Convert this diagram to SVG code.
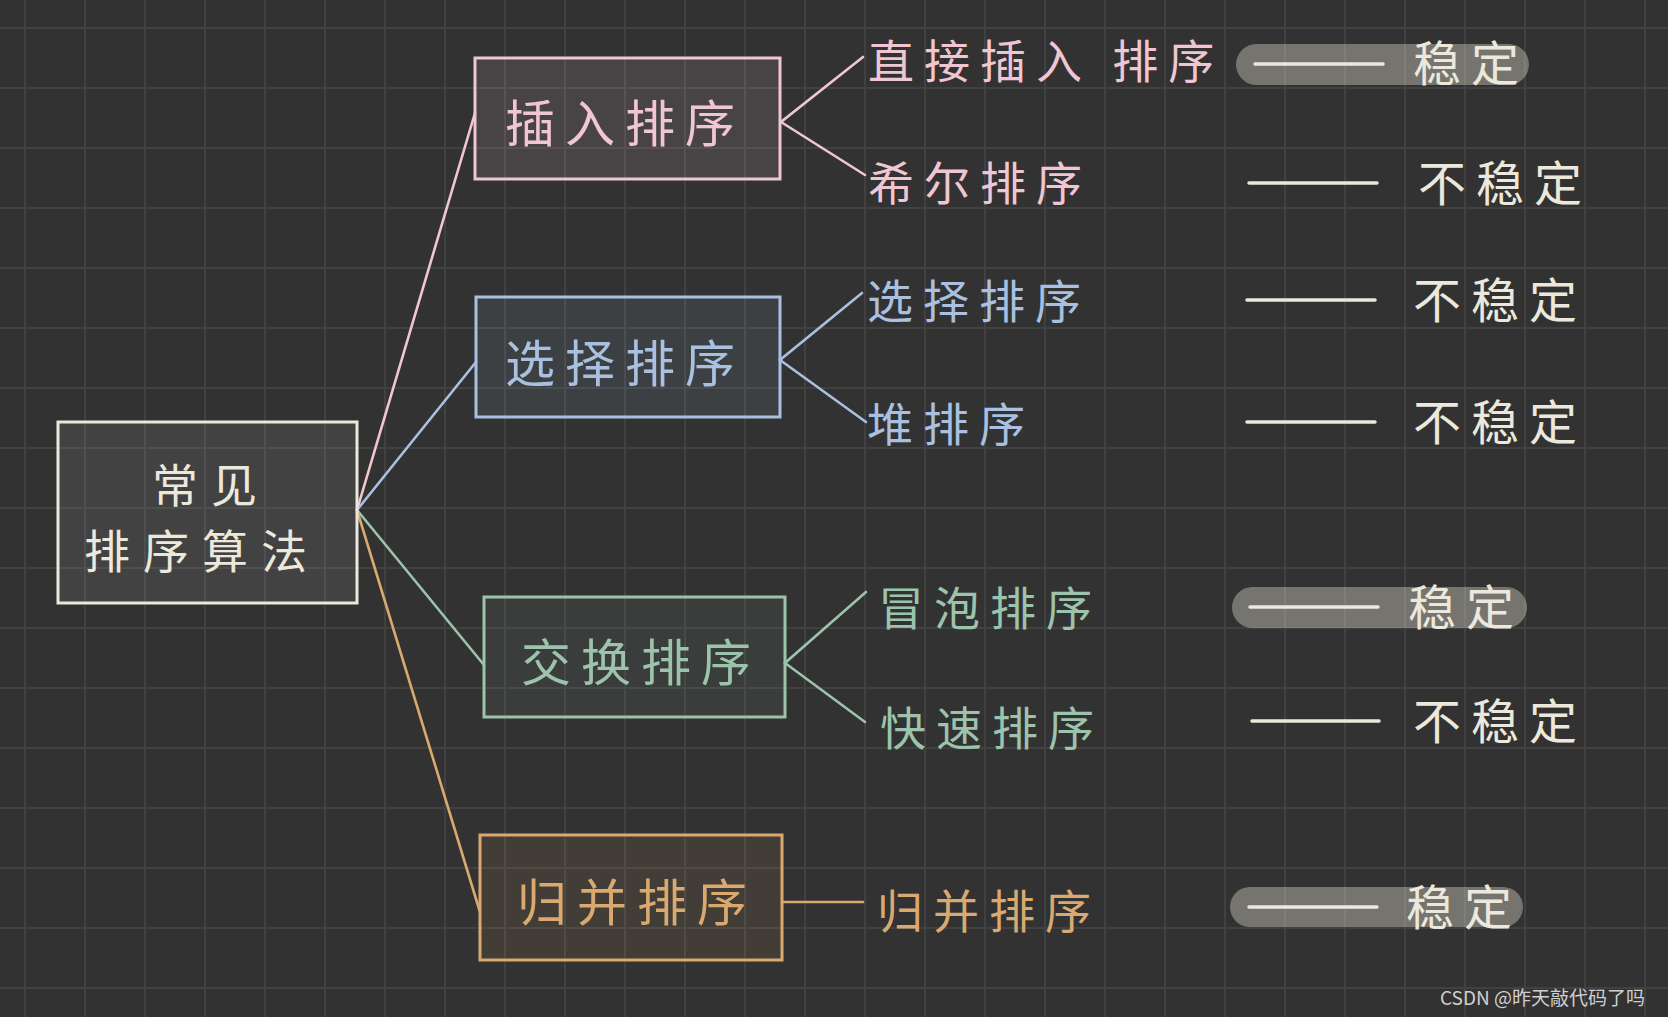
<svg xmlns="http://www.w3.org/2000/svg" width="1668" height="1017" viewBox="0 0 1668 1017">
  <defs>
    <pattern id="grid" patternUnits="userSpaceOnUse" x="0" y="0" width="60" height="60">
      <rect x="0" y="0" width="60" height="60" fill="#323232"/>
      <rect x="24" y="0" width="2" height="60" fill="#414141"/>
      <rect x="0" y="27" width="60" height="2" fill="#414141"/>
    </pattern>
    <style>
      text { font-family: "Noto Sans CJK SC", "Noto Sans", sans-serif; }
      .box { stroke-width: 3; }
      .lbl { font-size: 50px; letter-spacing: 10px; }
      .rootlbl { font-size: 46px; letter-spacing: 13px; }
      .leaf { font-size: 46px; letter-spacing: 10px; }
      .stab { font-size: 48px; letter-spacing: 10px; fill: #ece8dc; }
      .dash { stroke: #ece8dc; stroke-width: 3.5; stroke-linecap: round; }
      .pill { fill: rgb(235,232,220); fill-opacity: 0.36; }
      .conn line, .conn polyline { fill: none; stroke-width: 2.6; stroke-linecap: round; }
      .pink { fill: #f0c6d2; } .blue { fill: #a9c0e0; } .green { fill: #9cc3ac; } .tan { fill: #d9a96f; } .cream { fill: #ece8dc; }
    </style>
  </defs>

  <rect x="0" y="0" width="1668" height="1017" fill="url(#grid)"/>

  <g id="connectors" class="conn">
    <line x1="357" y1="510" x2="475" y2="113" stroke="#f0c6d2"/>
    <line x1="357" y1="510" x2="476" y2="362" stroke="#a9c0e0"/>
    <line x1="357" y1="510" x2="484" y2="665" stroke="#9cc3ac"/>
    <line x1="357" y1="510" x2="480" y2="912" stroke="#d9a96f"/>
    <polyline points="863,57 781,122 865,175" stroke="#f0c6d2"/>
    <polyline points="862,293 780,360 866,422" stroke="#a9c0e0"/>
    <polyline points="866,592 785,663 865,722" stroke="#9cc3ac"/>
    <line x1="782" y1="902" x2="863" y2="902" stroke="#d9a96f"/>
  </g>

  <g id="root">
    <rect class="box" x="58" y="422" width="299" height="181" fill="#ffffff" fill-opacity="0.08" stroke="#ece8dc"/>
    <text class="rootlbl cream" x="152" y="502">常见</text>
    <text class="rootlbl cream" x="84" y="568">排序算法</text>
  </g>

  <g id="insert-sort">
    <rect class="box" x="475" y="58" width="305" height="121" fill="#f0c6d2" fill-opacity="0.12" stroke="#f0c6d2"/>
    <text class="lbl pink" x="505" y="142">插入排序</text>
  </g>

  <g id="select-sort">
    <rect class="box" x="476" y="297" width="304" height="120" fill="#a9c0e0" fill-opacity="0.1" stroke="#a9c0e0"/>
    <text class="lbl blue" x="505" y="382">选择排序</text>
  </g>

  <g id="exchange-sort">
    <rect class="box" x="484" y="597" width="301" height="120" fill="#9cc3ac" fill-opacity="0.08" stroke="#9cc3ac"/>
    <text class="lbl green" x="521" y="681">交换排序</text>
  </g>

  <g id="merge-sort">
    <rect class="box" x="480" y="835" width="302" height="125" fill="#d9a96f" fill-opacity="0.1" stroke="#d9a96f"/>
    <text class="lbl tan" x="517" y="921">归并排序</text>
  </g>

  <g id="leaf-straight-insert"><text class="leaf pink" x="868" y="78" xml:space="preserve">直接插入 排序</text></g>
  <g id="leaf-shell"><text class="leaf pink" x="868" y="200">希尔排序</text></g>
  <g id="leaf-select"><text class="leaf blue" x="867" y="318">选择排序</text></g>
  <g id="leaf-heap"><text class="leaf blue" x="867" y="441">堆排序</text></g>
  <g id="leaf-bubble"><text class="leaf green" x="878" y="625">冒泡排序</text></g>
  <g id="leaf-quick"><text class="leaf green" x="880" y="745">快速排序</text></g>
  <g id="leaf-merge"><text class="leaf tan" x="877" y="928">归并排序</text></g>

  <g id="stab-1">
    <rect class="pill" x="1236" y="44" width="293" height="41" rx="20.5"/>
    <line class="dash" x1="1255" y1="64" x2="1383" y2="64"/>
    <text class="stab" x="1413" y="81">稳定</text>
  </g>
  <g id="stab-2">
    <line class="dash" x1="1249" y1="183" x2="1377" y2="183"/>
    <text class="stab" x="1418" y="201">不稳定</text>
  </g>
  <g id="stab-3">
    <line class="dash" x1="1247" y1="300" x2="1375" y2="300"/>
    <text class="stab" x="1413" y="318">不稳定</text>
  </g>
  <g id="stab-4">
    <line class="dash" x1="1247" y1="422" x2="1375" y2="422"/>
    <text class="stab" x="1413" y="440">不稳定</text>
  </g>
  <g id="stab-5">
    <rect class="pill" x="1232" y="587" width="295" height="41" rx="20.5"/>
    <line class="dash" x1="1250" y1="607" x2="1378" y2="607"/>
    <text class="stab" x="1408" y="625">稳定</text>
  </g>
  <g id="stab-6">
    <line class="dash" x1="1252" y1="721" x2="1379" y2="721"/>
    <text class="stab" x="1413" y="739">不稳定</text>
  </g>
  <g id="stab-7">
    <rect class="pill" x="1230" y="887" width="293" height="40" rx="20"/>
    <line class="dash" x1="1249" y1="907" x2="1377" y2="907"/>
    <text class="stab" x="1406" y="925">稳定</text>
  </g>

  <text x="1440" y="1005" font-size="19" fill="#cfcfcf" style="font-family: 'Noto Sans CJK SC', sans-serif;">CSDN @昨天敲代码了吗</text>
</svg>
